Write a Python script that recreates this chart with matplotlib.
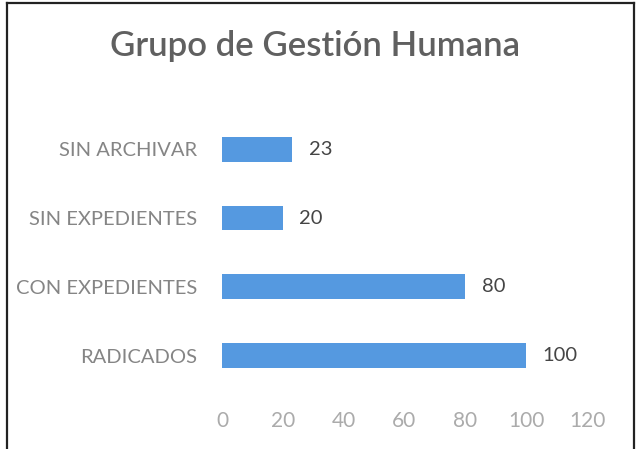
import matplotlib.pyplot as plt
from matplotlib.lines import Line2D

categorias = ['RADICADOS', 'CON EXPEDIENTES', 'SIN EXPEDIENTES', 'SIN ARCHIVAR']
valores = [100, 80, 20, 23]
ticks_x = [0, 20, 40, 60, 80, 100, 120]
titulo = 'Grupo de Gestión Humana'

plt.rcParams['font.family'] = ['Lato', 'DejaVu Sans']

fig = plt.figure(figsize=(6.37, 4.49), dpi=100)
ax = fig.add_axes([0.3485, 0.1314, 0.573, 0.6125])

pos = list(range(len(categorias)))
ax.barh(pos, valores, height=0.36, color='#5599e0')
for p, v in zip(pos, valores):
    ax.annotate(str(v), (v, p), xytext=(12, 0), textcoords='offset points',
                va='center', ha='left', fontsize=14.5, color='#454545')

ax.set_xlim(0, 120)
ax.set_ylim(-0.5, len(categorias) - 0.5)
ax.set_yticks(pos)
ax.set_yticklabels(categorias)
ax.set_xticks(ticks_x)
ax.tick_params(axis='y', length=0, pad=18, labelsize=14.5, labelcolor='#858585')
ax.tick_params(axis='x', length=0, pad=15, labelsize=15, labelcolor='#ababab')
for s in ax.spines.values():
    s.set_visible(False)

fig.text(0.494, 0.898, titulo, ha='center', va='center', fontsize=25,
         fontweight='semibold', color='#606060')

# marco del grafico (escaneado)
W, H = 637, 449
fig.add_artist(Line2D([7 / W, 634 / W], [1 - 3 / H, 1 - 3 / H], color='#222222', lw=1.6))
fig.add_artist(Line2D([7 / W, 7 / W], [0, 1 - 3 / H], color='#222222', lw=1.6))
fig.add_artist(Line2D([634 / W, 634 / W], [0, 1 - 3 / H], color='#222222', lw=1.6))

fig.savefig('out.png', dpi=100)
